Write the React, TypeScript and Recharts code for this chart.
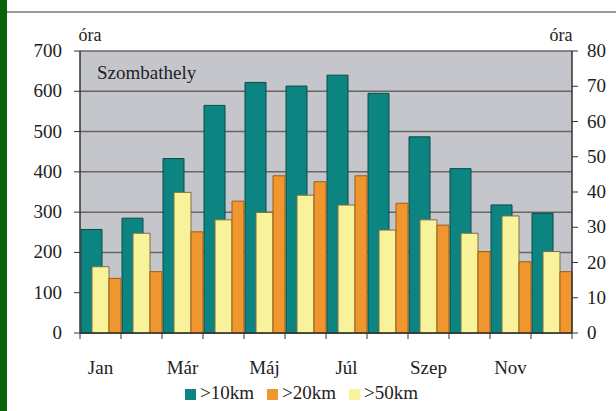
import React from 'react';
import { BarChart, Bar, XAxis, YAxis, CartesianGrid, Legend, Customized, Label } from 'recharts';

const months = ['Jan', 'Feb', 'Már', 'Ápr', 'Máj', 'Jún', 'Júl', 'Aug', 'Szep', 'Okt', 'Nov', 'Dec'];
const over10km = [257, 285, 433, 565, 622, 613, 640, 595, 487, 408, 318, 297];
const over20km = [15.5, 17.4, 28.7, 37.4, 44.6, 42.9, 44.6, 36.8, 30.6, 23.1, 20.2, 17.4];
const over50km = [18.8, 28.3, 39.9, 32.1, 34.2, 39.1, 36.3, 29.2, 32.1, 28.3, 33.2, 23.1];
const leftTicks = [0, 100, 200, 300, 400, 500, 600, 700];
const rightTicks = [0, 10, 20, 30, 40, 50, 60, 70, 80];

const data = months.map((m, i) => ({
  month: m,
  km10: over10km[i],
  km20: over20km[i],
  km50: over50km[i],
}));

const FONT = 'Liberation Serif, Times New Roman, serif';
const INK = '#222';

const Title = () => (
  <text x={97} y={79} fontFamily={FONT} fontSize={19} fill={INK}>
    Szombathely
  </text>
);

// Month axis: tick marks on category boundaries, labels on every second month
const MonthTick = (props: any) => {
  const { x, y, payload, index, visibleTicksCount, width } = props;
  const half = payload && typeof payload.offset === 'number' && payload.offset > 0
    ? payload.offset
    : width / (2 * visibleTicksCount);
  const isLast = index === visibleTicksCount - 1;
  return (
    <g>
      <line x1={x - half} x2={x - half} y1={y} y2={y + 6} stroke="#333" strokeWidth={1} />
      {isLast && <line x1={x + half} x2={x + half} y1={y} y2={y + 6} stroke="#333" strokeWidth={1} />}
      {index % 2 === 0 && (
        <text x={x} y={y + 41} textAnchor="middle" fill={INK} fontSize={19} fontFamily={FONT}>
          {payload.value}
        </text>
      )}
    </g>
  );
};

const LeftTick = (props: any) => {
  const { x, y, payload } = props;
  return (
    <text x={x} y={y} dy={6} textAnchor="end" fill={INK} fontSize={19} fontFamily={FONT}>
      {payload.value}
    </text>
  );
};

const RightTick = (props: any) => {
  const { x, y, payload } = props;
  return (
    <text x={x} y={y} dy={6} textAnchor="start" fill={INK} fontSize={19} fontFamily={FONT}>
      {payload.value}
    </text>
  );
};

export default function App() {
  return (
    <div style={{ position: 'absolute', left: 0, top: 0, width: 616, height: 411, background: '#fff', overflow: 'hidden', fontFamily: FONT }}>
      <div style={{ position: 'absolute', left: 0, top: 0, width: 7, height: 411, background: '#0a640a' }} />
      <div style={{ position: 'absolute', left: 7, top: 11, width: 609, height: 2, background: '#9a9a9a' }} />
      <div style={{ position: 'absolute', left: 0, top: 0 }}>
        <BarChart
          width={616}
          height={411}
          data={data}
          margin={{ top: 51, right: 0, bottom: 0, left: 0 }}
          barGap={0}
          barCategoryGap={0}
        >
          <CartesianGrid xAxisId="a" yAxisId="left" vertical={false} stroke="#666" strokeWidth={1.5} fill="#c5c6cb" />
          <XAxis
            xAxisId="a"
            dataKey="month"
            interval={0}
            height={45}
            tickSize={0}
            tickMargin={0}
            tickLine={false}
            tick={<MonthTick />}
            axisLine={{ stroke: '#333', strokeWidth: 1.5 }}
          />
          <XAxis xAxisId="b" dataKey="month" hide height={0} />
          <YAxis
            yAxisId="left"
            domain={[0, 700]}
            ticks={leftTicks}
            interval={0}
            width={80}
            tickSize={6}
            tickMargin={12}
            axisLine={{ stroke: '#333', strokeWidth: 1.5 }}
            tickLine={{ stroke: '#333' }}
            tick={<LeftTick />}
          >
            <Label value="óra" position="top" offset={10} dx={50} style={{ fill: INK, fontSize: 18, fontFamily: FONT }} />
          </YAxis>
          <YAxis
            yAxisId="right"
            orientation="right"
            domain={[0, 80]}
            ticks={rightTicks}
            interval={0}
            width={44}
            tickSize={6}
            tickMargin={9}
            axisLine={{ stroke: '#333', strokeWidth: 1.5 }}
            tickLine={{ stroke: '#333' }}
            tick={<RightTick />}
          >
            <Label value="óra" position="top" offset={10} dx={-33} style={{ fill: INK, fontSize: 18, fontFamily: FONT }} />
          </YAxis>
          <Legend
            verticalAlign="bottom"
            height={33}
            iconType="square"
            iconSize={11}
            wrapperStyle={{ fontFamily: FONT, fontSize: 19, bottom: -4 }}
            formatter={(v: string) => <span style={{ color: INK, fontFamily: FONT, marginRight: 3 }}>{v}</span>}
          />
          <Bar xAxisId="a" yAxisId="left" dataKey="km10" name=">10km" fill="#0c8481" stroke="#0a4a48" strokeWidth={1} barSize={21} isAnimationActive={false} />
          <Bar xAxisId="a" yAxisId="left" dataKey="gapA" fill="none" stroke="none" barSize={19} legendType="none" isAnimationActive={false} />
          <Bar xAxisId="b" yAxisId="right" dataKey="gapB" fill="none" stroke="none" barSize={11} legendType="none" isAnimationActive={false} />
          <Bar xAxisId="b" yAxisId="right" dataKey="km50" name=">50km" fill="#f8f29a" stroke="#7a7040" strokeWidth={1} barSize={17} isAnimationActive={false} />
          <Bar xAxisId="b" yAxisId="right" dataKey="km20" name=">20km" fill="#f0962e" stroke="#a05a10" strokeWidth={1} barSize={12} isAnimationActive={false} />
          <Customized component={Title} />
        </BarChart>
      </div>
    </div>
  );
}
